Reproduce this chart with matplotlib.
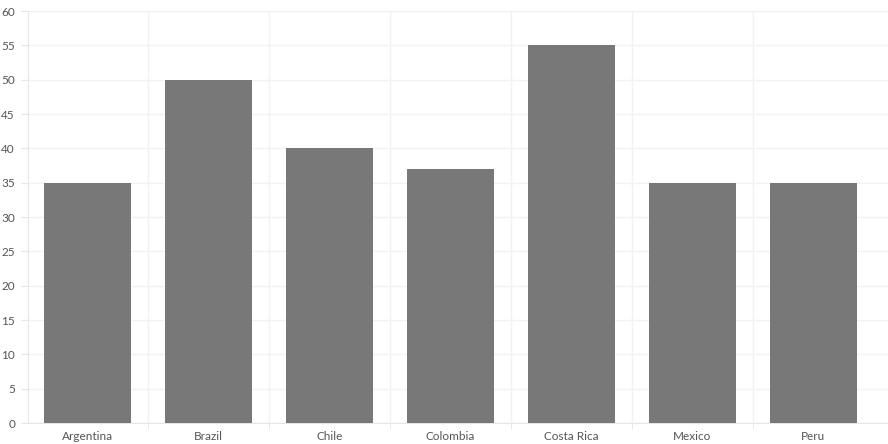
import matplotlib.pyplot as plt
import numpy as np

countries = ['Argentina', 'Brazil', 'Chile', 'Colombia', 'Costa Rica', 'Mexico', 'Peru']
values = [35, 50, 40, 37, 55, 35, 35]

plt.rcParams['font.family'] = ['Lato', 'DejaVu Sans']

fig = plt.figure(figsize=(8.88, 4.44), dpi=100)
ax = fig.add_axes([27.5 / 888, 21 / 444, 860 / 888, 412 / 444])

x = np.arange(len(countries))
ax.bar(x, values, width=0.72, color='#787878', zorder=3)

# right padding past the last category, like the original
ax.set_xlim(-0.5, 6.5 + 14 / 121)
ax.set_ylim(0, 60)
ax.set_yticks(range(0, 61, 5))
ax.set_xticks(x)
ax.set_xticklabels(countries)
ax.set_xticks(np.arange(0.5, 6, 1), minor=True)

ax.grid(axis='y', color='#f2f2f2', linewidth=1, zorder=0)
ax.grid(axis='x', which='minor', color='#f2f2f2', linewidth=1, zorder=0)

for s in ['top', 'right']:
    ax.spines[s].set_visible(False)
ax.spines['left'].set_color('#e6e6e6')
ax.spines['bottom'].set_color('#e6e6e6')

ax.tick_params(axis='x', which='major', length=0, pad=6, labelsize=8.5, labelcolor='#555555')
ax.tick_params(axis='x', which='minor', length=4, color='#e6e6e6')
ax.tick_params(axis='y', length=5, color='#e6e6e6', pad=4, labelsize=8.5, labelcolor='#555555')

fig.savefig('out.png', dpi=100)
